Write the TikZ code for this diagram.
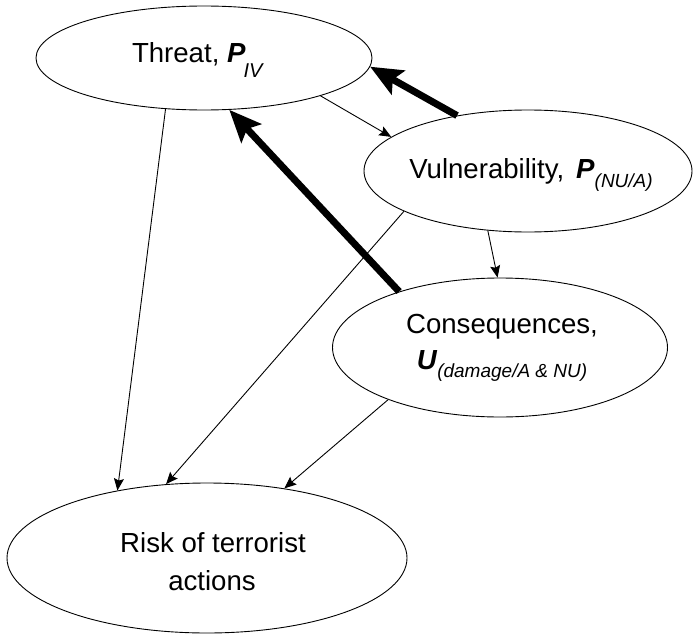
\documentclass[tikz,border=0pt]{standalone}
\usepackage{fontspec}
\setmainfont{Liberation Sans}
\usetikzlibrary{arrows.meta,shapes.geometric}

% Bold italic variable with an italic, lowered index
\newcommand{\varsub}[4]{\textbf{\textit{#1}}\raisebox{-#3pt}{\fontsize{#4}{#4}\selectfont\textit{#2}}}

\begin{document}
\begin{tikzpicture}[x=1pt,y=-1pt,
  bubble/.style={draw, ellipse, line width=0.9pt, inner sep=0pt},
  caption/.style={anchor=base, inner sep=0pt, font=\fontsize{27.6}{32}\selectfont},
  link/.style={-{Stealth[length=12pt,width=10pt,inset=2pt]}, line width=0.9pt},
  strong/.style={-{Stealth[length=32pt,width=27pt,inset=6pt]}, line width=7pt}]
\useasboundingbox (0,0) rectangle (693,634);

% the four factors
\node[bubble, minimum width=336pt, minimum height=104pt] (threat) at (204,58) {};
\node[bubble, minimum width=328pt, minimum height=122pt] (vuln) at (528,171) {};
\node[bubble, minimum width=335pt, minimum height=139pt] (cons) at (500,347.5) {};
\node[bubble, minimum width=400pt, minimum height=150pt] (risk) at (207,558) {};

% their labels
\node[caption] (threatText) at (198,63) {Threat, \varsub{P}{\hspace{-2pt}IV}{15}{20}};
\node[caption] (vulnText) at (531,178) {Vulnerability,\hspace{12pt}\varsub{P}{(NU/A)}{9}{19}};
\node[caption] (consText) at (502,333) {Consequences,};
\node[caption] (consSub) at (502,369) {\varsub{U}{(damage/A \& NU)}{8}{19}};
\node[caption] (riskText) at (213,552) {Risk of terrorist};
\node[caption] (riskSub) at (212,590) {actions};

% ordinary influences
\draw[link] (threat.-18.9) -- (vuln.166.4);
\draw[link] (vuln.236.3) -- (cons.92.5);
\draw[link] (threat.233.8) -- (risk.143.8);
\draw[link] (vuln.198.4) -- (risk.119.25);
\draw[link] (cons.205.5) -- (risk.42.6);

% strong feedback to the threat
\draw[strong] (vuln.142.3) -- (threat.-3.1);
\draw[strong] (cons.151) -- (threat.-64.3);
\end{tikzpicture}
\end{document}
